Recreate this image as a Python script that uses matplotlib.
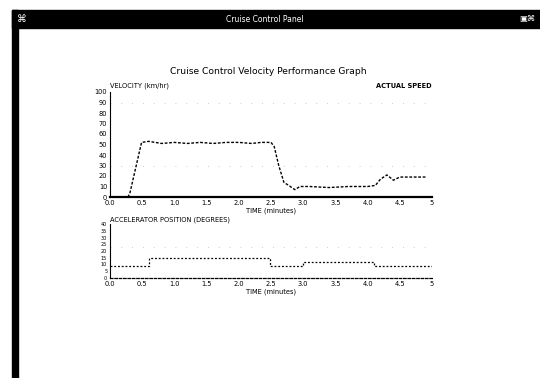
import matplotlib
matplotlib.use("Agg")
import matplotlib.pyplot as plt
from matplotlib.patches import Rectangle

# ---- data ----
vel_time = [0, 0.28, 0.31, 0.49, 0.6, 0.8, 1.0, 1.2, 1.4, 1.6, 1.8, 2.0, 2.2, 2.35, 2.5,
            2.55, 2.62, 2.7, 2.8, 2.87, 2.95, 3.1, 3.4, 3.7, 4.0, 4.12, 4.2, 4.3,
            4.4, 4.5, 4.7, 4.9]
velocity = [0, 0, 4, 52, 53, 51, 52, 51, 52, 51, 52, 52, 51, 52, 52,
            48, 30, 14, 10, 7, 10, 10, 9, 10, 10, 11, 17, 21,
            16, 19, 19, 19]

acc_time = [0, 0.6, 2.48, 3.0, 4.1, 5.0]
accel_pos = [9, 15, 9, 12, 9, 9]

x_ticks = [0, 0.5, 1.0, 1.5, 2.0, 2.5, 3.0, 3.5, 4.0, 4.5, 5]
x_labels = ["0.0", "0.5", "1.0", "1.5", "2.0", "2.5", "3.0", "3.5", "4.0", "4.5", "5"]
vel_ticks = [0, 10, 20, 30, 40, 50, 60, 70, 80, 90, 100]
acc_ticks = [0, 5, 10, 15, 20, 25, 30, 35, 40]

W, H = 540, 378
fig = plt.figure(figsize=(W / 100, H / 100), dpi=100)
fig.patch.set_facecolor("white")

def fr(x0, y0, w, h):
    return [x0 / W, 1 - (y0 + h) / H, w / W, h / H]

# window chrome
fig.patches.append(Rectangle((12 / W, 0), 6 / W, 1 - 10 / H, transform=fig.transFigure,
                             color="black", zorder=0))
fig.patches.append(Rectangle((12 / W, 1 - 28 / H), 1 - 12 / W, 18 / H,
                             transform=fig.transFigure, color="black", zorder=0))
fig.text(265 / W, 1 - 19 / H, "Cruise Control Panel", color="white", fontsize=5.5,
         ha="center", va="center")
fig.text(22 / W, 1 - 19 / H, "\u2318", color="white", fontsize=7, ha="center", va="center")
fig.text(527 / W, 1 - 19 / H, "\u25a3\u2318", color="white", fontsize=6, ha="center", va="center")

fig.text(268 / W, 1 - 72 / H, "Cruise Control Velocity Performance Graph",
         fontsize=6.6, ha="center", va="center")

fs = 4.8
# upper plot
ax1 = fig.add_axes(fr(110, 92, 322, 105))
ax1.plot(vel_time, velocity, color="black", lw=1.0, ls=(0, (2, 1.2)))
ax1.set_xlim(0, 5)
ax1.set_ylim(0, 100)
ax1.set_xticks(x_ticks)
ax1.set_xticklabels(x_labels, fontsize=fs)
ax1.set_yticks(vel_ticks)
ax1.set_yticklabels([str(v) for v in vel_ticks], fontsize=fs)
ax1.tick_params(length=0, pad=2)
for s in ["top", "right"]:
    ax1.spines[s].set_visible(False)
ax1.spines["bottom"].set_linewidth(1.6)
ax1.spines["left"].set_linestyle((0, (1, 1)))
ax1.spines["left"].set_linewidth(0.8)
for yv in [90, 30]:
    ax1.axhline(yv, color="#bbbbbb", lw=0.6, ls=(0, (1, 12)))
ax1.set_xlabel("TIME (minutes)", fontsize=fs, labelpad=1)
ax1.text(0.0, 1.06, "VELOCITY (km/hr)", transform=ax1.transAxes, fontsize=fs,
         ha="left", va="center")
ax1.text(1.0, 1.06, "ACTUAL SPEED", transform=ax1.transAxes, fontsize=fs,
         ha="right", va="center", fontweight="bold")

# lower plot
ax2 = fig.add_axes(fr(110, 224, 322, 54))
ax2.plot(acc_time, accel_pos, color="black", lw=0.9, ls=(0, (1.5, 1.5)),
         drawstyle="steps-post")
ax2.set_xlim(0, 5)
ax2.set_ylim(0, 40)
ax2.set_xticks(x_ticks)
ax2.set_xticklabels(x_labels, fontsize=fs)
ax2.set_yticks(acc_ticks)
ax2.set_yticklabels([str(v) for v in acc_ticks], fontsize=3.5)
ax2.tick_params(length=0, pad=2)
for s in ["top", "right"]:
    ax2.spines[s].set_visible(False)
ax2.spines["bottom"].set_linestyle((0, (2, 1.5)))
ax2.spines["bottom"].set_linewidth(0.9)
ax2.spines["left"].set_linestyle((0, (1, 1)))
ax2.spines["left"].set_linewidth(0.8)
ax2.axhline(23, color="#bbbbbb", lw=0.6, ls=(0, (1, 12)))
ax2.set_xlabel("TIME (minutes)", fontsize=fs, labelpad=1)
ax2.text(0.0, 1.08, "ACCELERATOR POSITION (DEGREES)", transform=ax2.transAxes,
         fontsize=fs, ha="left", va="center")

fig.savefig("out.png", dpi=100)
